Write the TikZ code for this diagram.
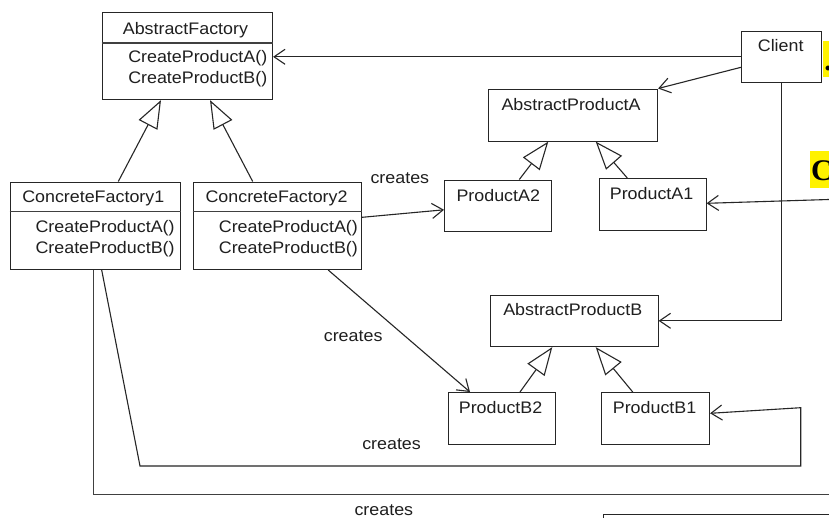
\documentclass[tikz,border=0pt]{standalone}
\usepackage{fontspec}
\setmainfont[FakeStretch=1.07]{Liberation Sans}
\newfontfamily\notefont{Liberation Serif}
\usetikzlibrary{arrows.meta,calc}
\begin{document}
\begin{tikzpicture}[x=1pt,y=-1pt,
  line width=1.1pt,
  every node/.style={inner sep=0pt},
  classbox/.style={draw=black!85, line width=1.1pt, anchor=north west},
  lbl/.style={anchor=base west, text=black!88, font=\fontsize{16.7}{20}\selectfont},
  dep/.style={draw=black!85, -{Straight Barb[length=11pt,width=15pt,line join=miter]}},
  link/.style={draw=black!75},
  gen/.style={draw=black!85, -{Triangle[open,length=28pt,width=21pt,fill=white]}},
  hl/.style={fill=yellow, anchor=north west, inner xsep=1.2pt, inner ysep=0pt,
    font=\notefont\bfseries\fontsize{30}{34}\selectfont}]
\clip (0,0) rectangle (829,517);
\fill[white] (0,0) rectangle (829,517);

% class boxes
\node[classbox, minimum width=170.5pt, minimum height=87pt]  (af)  at (101.5,12) {};
\node[classbox, minimum width=170.5pt, minimum height=87.5pt] (cf1) at (9.5,181.5) {};
\node[classbox, minimum width=168.5pt, minimum height=87.5pt] (cf2) at (192.5,181.5) {};
\node[classbox, minimum width=79.5pt,  minimum height=51.5pt] (client) at (741,30.5) {};
\node[classbox, minimum width=169pt,   minimum height=52pt]   (apa) at (488,88.5) {};
\node[classbox, minimum width=106.5pt, minimum height=51.5pt] (pa2) at (444,179.5) {};
\node[classbox, minimum width=107pt,   minimum height=51.5pt] (pa1) at (598.5,178) {};
\node[classbox, minimum width=168pt,   minimum height=51.5pt] (apb) at (489.5,294.5) {};
\node[classbox, minimum width=107.5pt, minimum height=51.5pt] (pb2) at (447.5,392) {};
\node[classbox, minimum width=108.5pt, minimum height=51.5pt] (pb1) at (600.5,392) {};
\node[classbox, minimum width=240pt,   minimum height=40pt]   (lowbox) at (603,514) {};

% compartment lines
\draw[black!75] ([yshift=-31pt]af.north west) -- ([yshift=-31pt]af.north east);
\draw[black!75] ([yshift=-30pt]cf1.north west) -- ([yshift=-30pt]cf1.north east);
\draw[black!75] ([yshift=-30pt]cf2.north west) -- ([yshift=-30pt]cf2.north east);

% class names and operations
\node[lbl] (af-n)  at (122.3,34.3) {AbstractFactory};
\node[lbl] (af-a)  at (127.7,62.7) {CreateProductA()};
\node[lbl] (af-b)  at (127.7,83.3) {CreateProductB()};
\node[lbl] (cf1-n) at (21.7,202.3) {ConcreteFactory1};
\node[lbl] (cf1-a) at (35,232)     {CreateProductA()};
\node[lbl] (cf1-b) at (35,253.3)   {CreateProductB()};
\node[lbl] (cf2-n) at (205,202.3)  {ConcreteFactory2};
\node[lbl] (cf2-a) at (218.3,232)  {CreateProductA()};
\node[lbl] (cf2-b) at (218.3,253.3){CreateProductB()};
\node[lbl] (client-n) at (757.3,51.7) {Client};
\node[lbl] (apa-n) at (501,110)    {AbstractProductA};
\node[lbl] (pa2-n) at (456,201.7)  {ProductA2};
\node[lbl] (pa1-n) at (609.3,199.3){ProductA1};
\node[lbl] (apb-n) at (502.7,315.3){AbstractProductB};
\node[lbl] (pb2-n) at (458.3,413.3){ProductB2};
\node[lbl] (pb1-n) at (612.3,413.3){ProductB1};

% "creates" labels
\node[lbl] (c1) at (370,183.3)   {creates};
\node[lbl] (c2) at (323.3,341.7) {creates};
\node[lbl] (c3) at (361.7,449.3) {creates};
\node[lbl] (c4) at (354,515)     {creates};

% highlighted notes at the right edge
\node[hl, text height=29pt, text depth=7pt] (note1) at (822.7,40.7) {.};
\node[hl, text height=30pt, text depth=7pt] (note2) at (809.3,150) {C};

% generalizations
\draw[gen] ([xshift=108.8pt]cf1.north west) -- ([xshift=59.5pt]af.south west);
\draw[gen] ([xshift=60.2pt]cf2.north west) -- ([xshift=108.5pt]af.south west);
\draw[gen] ([xshift=75.3pt]pa2.north west) -- ([xshift=60.3pt]apa.south west);
\draw[gen] ([xshift=28.8pt]pa1.north west) -- ([xshift=107.7pt]apa.south west);
\draw[gen] ([xshift=72.5pt]pb2.north west) -- ([xshift=62.8pt]apb.south west);
\draw[gen] ([xshift=32.2pt]pb1.north west) -- ([xshift=106.2pt]apb.south west);

% client associations
\draw[dep] (client.west) -- (client.west -| af.east);
\draw[dep] ([yshift=-10.5pt]client.west) -- (apa.north east);
\draw[dep] (client.south) -- (client.south |- apb.east) -- (apb.east);
\coordinate (ra) at (835,199.3);
\draw[dep] (ra) -- ([yshift=1pt]pa1.east);

% creation links
\draw[dep] ([yshift=8.5pt]cf2.east) -- ([yshift=-4pt]pa2.west);
\draw[dep] ([xshift=135.8pt]cf2.south west) -- ([xshift=22.5pt]pb2.north west);
\coordinate (k1) at (140,466);
\coordinate (k2) at (800.7,466);
\coordinate (k3) at (800.7,407.7);
\draw[dep] ([xshift=92.2pt]cf1.south west) -- (k1) -- (k2) -- (k3) -- ([yshift=5pt]pb1.east);
\coordinate (m1) at (93.3,494.5);
\coordinate (m2) at (835,494.5);
\draw[link] ([xshift=83.8pt]cf1.south west) -- (m1) -- (m2);
\end{tikzpicture}
\end{document}
